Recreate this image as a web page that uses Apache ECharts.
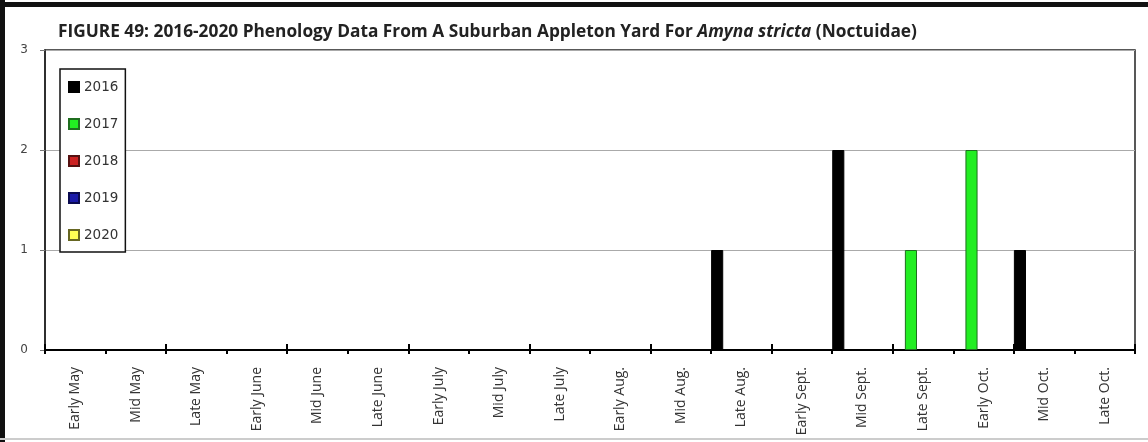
<!DOCTYPE html>
<html>
<head>
<meta charset="utf-8">
<script src="https://cdn.jsdelivr.net/npm/echarts@6/dist/echarts.min.js"></script>
<style>
html,body{margin:0;padding:0;background:#fff;}
#chart{width:1148px;height:442px;}
</style>
</head>
<body>
<div id="chart"></div>
<script>
const categories = ['Early May','Mid May','Late May','Early June','Mid June','Late June','Early July','Mid July','Late July','Early Aug.','Mid Aug.','Late Aug.','Early Sept.','Mid Sept.','Late Sept.','Early Oct.','Mid Oct.','Late Oct.'];
const years = ['2016','2017','2018','2019','2020'];
const values2016 = [0,0,0,0,0,0,0,0,0,0,0,1,0,2,0,0,1,0];
const values2017 = [0,0,0,0,0,0,0,0,0,0,0,0,0,0,1,2,0,0];
const values2018 = [0,0,0,0,0,0,0,0,0,0,0,0,0,0,0,0,0,0];
const values2019 = [0,0,0,0,0,0,0,0,0,0,0,0,0,0,0,0,0,0];
const values2020 = [0,0,0,0,0,0,0,0,0,0,0,0,0,0,0,0,0,0];
const yTicks = [0,1,2,3];

const seriesValues = [values2016, values2017, values2018, values2019, values2020];
const fills = ['#000000','#22ee22','#cc2222','#1a1aa8','#ffff55'];
const borders = ['#000000','#1f6e1f','#551111','#0a0a50','#666622'];

const chart = echarts.init(document.getElementById('chart'), null, {renderer:'canvas'});
const option = {
  animation:false,
  backgroundColor:'#ffffff',
  title:{
    text:'{b|FIGURE 49: 2016-2020 Phenology Data From A Suburban Appleton Yard For }{i|Amyna stricta}{b| (Noctuidae)}',
    left:53, top:19,
    textStyle:{
      rich:{
        b:{fontFamily:'Open Sans',fontWeight:'bold',fontSize:17.3,color:'#222'},
        i:{fontFamily:'Open Sans',fontWeight:'bold',fontStyle:'italic',fontSize:17.3,color:'#222'}
      }
    }
  },
  legend:{
    orient:'vertical',
    left:60, top:69,
    data:years,
    icon:'rect',
    itemWidth:10, itemHeight:10,
    itemGap:23,
    padding:[11,7,10,8],
    backgroundColor:'#ffffff',
    borderColor:'#111',
    borderWidth:1.5,
    textStyle:{fontFamily:'DejaVu Sans',fontSize:13.5,color:'#333'},
    selectedMode:false
  },
  grid:{left:45,right:13,top:50,bottom:92,show:true,borderColor:'#222',borderWidth:1.5,backgroundColor:'transparent'},
  xAxis:[{
    type:'category',
    data:categories,
    boundaryGap:true,
    axisLine:{lineStyle:{color:'#000',width:2}},
    axisTick:{show:true,inside:false,length:4,lineStyle:{color:'#000',width:2}},
    axisLabel:{rotate:90,margin:17,fontFamily:'Open Sans',fontSize:14,color:'#333',interval:0}
  },{
    type:'category',
    data:categories,
    position:'bottom',
    boundaryGap:true,
    axisLine:{show:false},
    axisTick:{show:true,inside:true,length:6,lineStyle:{color:'#000',width:2}},
    axisLabel:{show:false}
  }],
  yAxis:{
    type:'value',
    min:yTicks[0], max:yTicks[yTicks.length-1], interval:1,
    axisLine:{show:true,lineStyle:{color:'#222',width:1.5}},
    axisTick:{show:true,inside:false,length:5,lineStyle:{color:'#777'}},
    axisLabel:{margin:17,fontFamily:'DejaVu Sans',fontSize:12,color:'#444'},
    splitLine:{show:true,lineStyle:{color:'#aaa',width:1.2}}
  },
  series: years.map((y,i)=>({
    name:y,
    type:'bar',
    data:seriesValues[i].map(v => v === 0 ? {value:v, itemStyle:{opacity:0}} : v),
    barGap:'0%',
    barCategoryGap:'0%',
    itemStyle:{color:fills[i],borderColor:borders[i],borderWidth:1}
  })),
  graphic:[
    {type:'rect',shape:{x:0,y:2,width:1148,height:5},style:{fill:'#111'},silent:true},
    {type:'rect',shape:{x:0,y:0,width:5,height:442},style:{fill:'#111'},silent:true},
    {type:'rect',shape:{x:0,y:438,width:1148,height:2},style:{fill:'#ccc'},silent:true}
  ]
};
chart.setOption(option);
</script>
</body>
</html>
